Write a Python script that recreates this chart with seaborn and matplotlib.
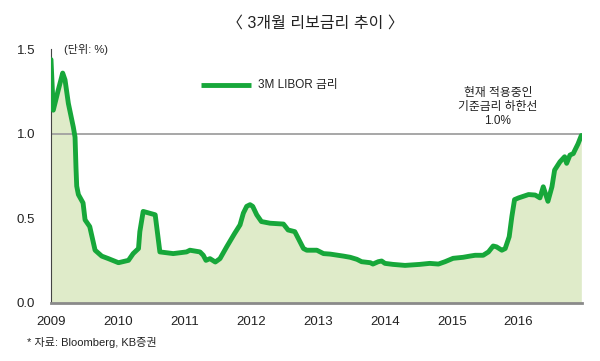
import numpy as np
import pandas as pd
import matplotlib
matplotlib.use("Agg")
import matplotlib.pyplot as plt
import seaborn as sns

# ===== Data (decimal years) =====
years = [
    2009.00, 2009.034, 2009.109, 2009.175, 2009.21, 2009.26, 2009.334, 2009.36,
    2009.374, 2009.385, 2009.41, 2009.48, 2009.51, 2009.58, 2009.66, 2009.76,
    2009.86, 2010.01, 2010.16, 2010.23, 2010.31, 2010.33, 2010.38, 2010.56,
    2010.63, 2010.83, 2011.03, 2011.08, 2011.23, 2011.28, 2011.32, 2011.38,
    2011.46, 2011.53, 2011.63, 2011.75, 2011.83, 2011.88, 2011.93, 2011.98,
    2012.02, 2012.08, 2012.15, 2012.28, 2012.48, 2012.55, 2012.65, 2012.78,
    2012.83, 2012.98, 2013.08, 2013.18, 2013.38, 2013.48, 2013.58, 2013.65,
    2013.78, 2013.82, 2013.90, 2013.95, 2014.00, 2014.12, 2014.30, 2014.52,
    2014.67, 2014.80, 2014.90, 2015.02, 2015.17, 2015.27, 2015.35, 2015.47,
    2015.55, 2015.62, 2015.67, 2015.75, 2015.80, 2015.86, 2015.90, 2015.94,
    2016.00, 2016.15, 2016.25, 2016.32, 2016.37, 2016.44, 2016.50, 2016.54,
    2016.62, 2016.69, 2016.72, 2016.77, 2016.82, 2016.84, 2016.89, 2016.94,
]
libor = [
    1.44, 1.14, 1.26, 1.36, 1.32, 1.18, 1.04, 0.98,
    0.80, 0.69, 0.64, 0.59, 0.49, 0.45, 0.31, 0.275,
    0.26, 0.236, 0.25, 0.29, 0.32, 0.42, 0.54, 0.52,
    0.30, 0.29, 0.30, 0.31, 0.30, 0.28, 0.25, 0.26,
    0.24, 0.26, 0.33, 0.41, 0.46, 0.53, 0.57, 0.58,
    0.57, 0.52, 0.48, 0.47, 0.465, 0.43, 0.42, 0.32,
    0.31, 0.31, 0.29, 0.287, 0.275, 0.268, 0.256, 0.242,
    0.236, 0.228, 0.242, 0.246, 0.232, 0.226, 0.22, 0.226,
    0.232, 0.228, 0.242, 0.262, 0.268, 0.275, 0.28, 0.28,
    0.30, 0.335, 0.33, 0.31, 0.32, 0.39, 0.51, 0.61,
    0.62, 0.64, 0.637, 0.62, 0.686, 0.60, 0.686, 0.785,
    0.834, 0.864, 0.825, 0.874, 0.883, 0.90, 0.94, 0.99,
]
year_ticks = [2009, 2010, 2011, 2012, 2013, 2014, 2015, 2016]
y_ticks = [0.0, 0.5, 1.0, 1.5]
floor_rate = 1.0

df = pd.DataFrame({"year": years, "rate": libor})

# ===== Style =====
sns.set_style("white")
plt.rcParams["font.family"] = ["Liberation Sans", "Noto Sans CJK KR", "DejaVu Sans"]

line_green = "#17a73a"
fill_green = "#dfebc9"

fig = plt.figure(figsize=(6, 3.61), dpi=100)
ax = fig.add_axes([0.085, 0.162, 0.885, 0.701])

ax.fill_between(df["year"], 0, df["rate"], color=fill_green, lw=0, zorder=1)
ax.axhline(floor_rate, color="#a0a0a0", lw=1.3, zorder=2)
sns.lineplot(data=df, x="year", y="rate", color=line_green, lw=3.5,
             ax=ax, zorder=3, solid_joinstyle="round")

ax.set_xlim(2009, 2016.95)
ax.set_ylim(0, 1.5)
ax.set_xticks(year_ticks)
ax.set_xticklabels([str(y) for y in year_ticks], fontsize=9.5, color="#222222")
ax.set_yticks(y_ticks)
ax.set_yticklabels([f"{v:.1f}" for v in y_ticks], fontsize=9.5, color="#222222")
ax.set_xlabel("")
ax.set_ylabel("")

for s in ["top", "right"]:
    ax.spines[s].set_visible(False)
ax.spines["left"].set_color("#444444")
ax.spines["left"].set_linewidth(0.8)
ax.spines["bottom"].set_color("#8a8a8a")
ax.spines["bottom"].set_linewidth(2)
ax.tick_params(axis="x", direction="in", length=5, width=0.9, color="#222222", pad=10)
ax.tick_params(axis="y", direction="in", length=5, width=0.9, color="#444444", pad=11.5)

# ===== Text =====
fig.text(0.525, 0.935, "〈 3개월 리보금리 추이 〉", ha="center", va="center",
         fontsize=11.5, color="#222222")
ax.text(2009.2, 1.5, "(단위: %)", ha="left", va="center", fontsize=8, color="#222222")

# legend drawn by hand like the reference
ax.plot([2011.25, 2012.0], [1.29, 1.29], color=line_green, lw=3.5, solid_capstyle="butt")
ax.text(2012.1, 1.29, "3M LIBOR 금리", ha="left", va="center", fontsize=8.5, color="#222222")

ax.text(2015.69, 1.16, "현재 적용중인\n기준금리 하한선\n1.0%", ha="center", va="center",
        fontsize=8.5, color="#222222", linespacing=1.25)

fig.text(0.045, 0.05, "* 자료: Bloomberg, KB증권", ha="left", va="center",
         fontsize=8, color="#222222")

plt.savefig("out.png", dpi=100)
